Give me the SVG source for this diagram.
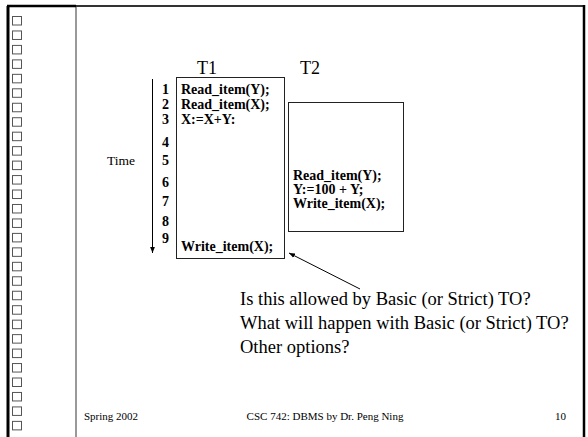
<svg xmlns="http://www.w3.org/2000/svg" width="588" height="437" viewBox="0 0 588 437">
<style>
.serif{font-family:"Liberation Serif","Times New Roman",serif;fill:#000}
.num{font-size:14px;font-weight:bold}
.code{font-size:14px;font-weight:bold}
.q{font-size:18.5px}
.foot{font-size:11px}
.box{fill:#fff;stroke:#222;stroke-width:1}
.sq{fill:#fff;stroke:#555;stroke-width:1}
</style>
<defs>
<marker id="ah" viewBox="0 0 10 10" refX="10" refY="5" markerWidth="6" markerHeight="6" orient="auto-start-reverse" markerUnits="userSpaceOnUse">
<path d="M0,1 L10,5 L0,9 z" fill="#000"/>
</marker>
<rect id="sq" class="sq" x="12.5" y="16.5" width="9" height="8.5"/>
</defs>
<rect width="588" height="437" fill="#fff"/>
<g id="frame">
<line x1="76" y1="6" x2="76" y2="437" stroke="#777" stroke-width="1.5"/>
<line x1="8" y1="6" x2="8" y2="437" stroke="#000" stroke-width="3"/>
<line x1="7" y1="6" x2="76" y2="6" stroke="#000" stroke-width="2.5"/>
<line x1="76" y1="6" x2="585" y2="6" stroke="#333" stroke-width="2"/>
<line x1="584" y1="5" x2="584" y2="437" stroke="#000" stroke-width="2.5"/>
<g id="squares">
<use href="#sq" y="0"/><use href="#sq" y="14.46"/><use href="#sq" y="28.92"/><use href="#sq" y="43.38"/>
<use href="#sq" y="57.84"/><use href="#sq" y="72.3"/><use href="#sq" y="86.76"/><use href="#sq" y="101.22"/>
<use href="#sq" y="115.68"/><use href="#sq" y="130.14"/><use href="#sq" y="144.6"/><use href="#sq" y="159.06"/>
<use href="#sq" y="173.52"/><use href="#sq" y="187.98"/><use href="#sq" y="202.44"/><use href="#sq" y="216.9"/>
<use href="#sq" y="231.36"/><use href="#sq" y="245.82"/><use href="#sq" y="260.28"/><use href="#sq" y="274.74"/>
<use href="#sq" y="289.2"/><use href="#sq" y="303.66"/><use href="#sq" y="318.12"/><use href="#sq" y="332.58"/>
<use href="#sq" y="347.04"/><use href="#sq" y="361.5"/><use href="#sq" y="375.96"/><use href="#sq" y="390.42"/>
<use href="#sq" y="404.88"/>
</g>
</g>
<g id="T1">
<rect class="box" x="176.5" y="77.5" width="108" height="181"/>
<text class="serif" x="197" y="74" font-size="18">T1</text>
<text class="serif code" x="181" y="94">Read_item(Y);</text>
<text class="serif code" x="181" y="109">Read_item(X);</text>
<text class="serif code" x="181" y="124">X:=X+Y:</text>
<text class="serif code" x="181" y="251">Write_item(X);</text>
</g>
<g id="T2">
<rect class="box" x="288.5" y="102.5" width="115" height="129"/>
<text class="serif" x="300" y="74" font-size="18">T2</text>
<text class="serif code" x="293" y="180">Read_item(Y);</text>
<text class="serif code" x="293" y="194">Y:=100 + Y;</text>
<text class="serif code" x="293" y="208">Write_item(X);</text>
</g>
<g id="time">
<text class="serif" x="107" y="165" font-size="13.5">Time</text>
<text class="serif num" x="162" y="94">1</text>
<text class="serif num" x="162" y="109">2</text>
<text class="serif num" x="162" y="124">3</text>
<text class="serif num" x="162" y="147">4</text>
<text class="serif num" x="162" y="165">5</text>
<text class="serif num" x="162" y="187">6</text>
<text class="serif num" x="162" y="206">7</text>
<text class="serif num" x="162" y="226">8</text>
<text class="serif num" x="162" y="243">9</text>
</g>
<g id="connectors">
<line x1="152.5" y1="79" x2="152.5" y2="253" stroke="#000" stroke-width="1" marker-end="url(#ah)"/>
<line x1="360" y1="289" x2="289" y2="253" stroke="#000" stroke-width="1" marker-end="url(#ah)"/>
</g>
<g id="question">
<text class="serif q" x="240" y="305">Is this allowed by Basic (or Strict) TO?</text>
<text class="serif q" x="240" y="329">What will happen with Basic (or Strict) TO?</text>
<text class="serif q" x="240" y="353">Other options?</text>
</g>
<g id="footer">
<text class="serif foot" x="84" y="420">Spring 2002</text>
<text class="serif foot" x="325" y="420" text-anchor="middle">CSC 742: DBMS by Dr. Peng Ning</text>
<text class="serif foot" x="566" y="420" text-anchor="end">10</text>
</g>
</svg>
